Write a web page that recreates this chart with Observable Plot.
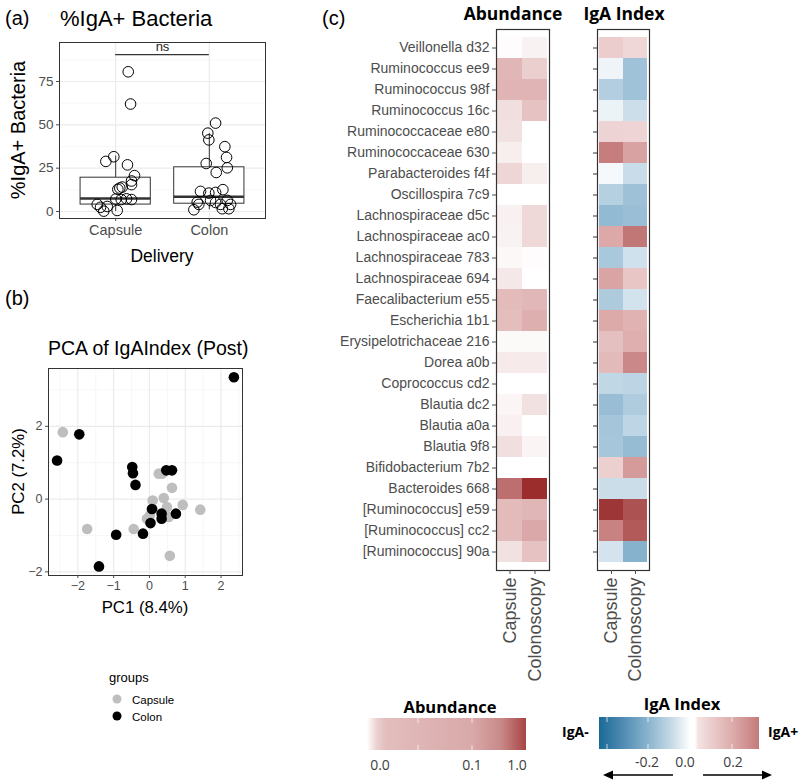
<!DOCTYPE html>
<html><head><meta charset="utf-8">
<script src="https://cdn.jsdelivr.net/npm/d3@7"></script>
<script src="https://cdn.jsdelivr.net/npm/@observablehq/plot@0.6"></script>
<style>
body{margin:0;background:#fff;}
#root{position:relative;width:800px;height:781px;overflow:hidden;background:#fff;}
.panel{position:absolute;}
.bar{position:absolute;}
</style></head><body><div id="root"></div>
<script>
// ---------- Panel (a) data ----------
const aGroups = ["Capsule", "Colon"];
const aPos = [1, 2];
const aQ1 = [4, 4.5];
const aMed = [7.5, 8.5];
const aQ3 = [19.5, 25.5];
const aLo = [0, 1];
const aHi = [32, 45];
const capX = [1.134,1.159,0.980,0.895,1.126,1.201,1.169,1.169,1.070,1.023,1.044,1.001,1.059,1.169,0.803,0.838,0.910,0.873,1.016,1.116];
const capY = [80.6,62,31.6,28.9,26.9,20.7,17.6,15.5,14.1,12.8,13.5,7.2,6.9,6.9,4.1,2.4,2.9,0.2,0.6,7.3];
const colX = [2.067,1.984,1.995,2.166,2.184,2.192,1.967,2.074,2.145,1.906,1.995,2.067,1.871,1.888,2.013,2.067,2.120,2.192,2.227,1.835,2.138,2.209];
const colY = [51,45.2,41.3,37.4,31.2,25.2,27.7,22.5,12.6,11.6,10.6,11,5.4,4.1,6.4,5.2,4.1,6.4,4.1,1,1.6,1.6];
const aYTicks = [0, 25, 50, 75];
const aYMinor = [12.5, 37.5, 62.5, 87.5];
const nsY = 90.5;

// ---------- Panel (b) data ----------
const pcaColonX = [2.36,-1.96,-2.58,-0.48,-0.46,-0.39,0.47,0.63,0.07,0.03,0.34,0.34,0.74,-0.93,-0.18,-1.41];
const pcaColonY = [3.35,1.78,1.06,0.88,0.71,0.39,0.79,0.79,-0.27,-0.66,-0.40,-0.54,-0.40,-0.98,-0.95,-1.85];
const pcaCapX = [-2.42,-1.74,-0.44,0.26,0.35,0.63,0.40,0.09,0.09,-0.07,0.01,0.49,0.93,1.42,0.57,0.54];
const pcaCapY = [1.84,-0.82,-0.82,0.70,0.70,0.31,0.03,-0.04,-0.27,-0.54,-0.45,-0.22,-0.16,-0.29,-1.56,-0.49];
const bXTicks = [-2, -1, 0, 1, 2];
const bXMinor = [-2.5, -1.5, -0.5, 0.5, 1.5, 2.5];
const bYTicks = [-2, 0, 2];
const bYMinor = [-1, 1, 3];

// ---------- Panel (c) data ----------
const taxa = ["Veillonella d32","Ruminococcus ee9","Ruminococcus 98f","Ruminococcus 16c","Ruminococcaceae e80","Ruminococcaceae 630","Parabacteroides f4f","Oscillospira 7c9","Lachnospiraceae d5c","Lachnospiraceae ac0","Lachnospiraceae 783","Lachnospiraceae 694","Faecalibacterium e55","Escherichia 1b1","Erysipelotrichaceae 216","Dorea a0b","Coprococcus cd2","Blautia dc2","Blautia a0a","Blautia 9f8","Bifidobacterium 7b2","Bacteroides 668","[Ruminococcus] e59","[Ruminococcus] cc2","[Ruminococcus] 90a"];
const methods = ["Capsule", "Colonoscopy"];
const abundCapsule = [0.0002,0.045,0.05,0.005,0.004,0.0015,0.008,0,0.0012,0.001,0.0005,0.0025,0.035,0.032,0.0004,0.0022,0,0.0007,0.0012,0.005,0,0.28,0.035,0.035,0.004];
const abundColon   = [0.001,0.012,0.05,0.025,0,0,0.0015,0,0.007,0.007,0.0002,0,0.042,0.065,0.0004,0.0022,0,0.004,0,0.0008,0,0.95,0.045,0.09,0.025];
const igaCapsule = [0.112,-0.026,-0.12,-0.03,0.099,0.312,-0.014,-0.116,-0.17,0.195,-0.135,0.205,-0.128,0.19,0.142,0.155,-0.1,-0.162,-0.144,-0.14,0.106,-0.084,0.44,0.299,-0.068];
const igaColon   = [0.09,-0.151,-0.151,-0.082,0.097,0.21,-0.086,-0.152,-0.16,0.329,-0.075,0.128,-0.07,0.173,0.18,0.283,-0.106,-0.126,-0.104,-0.166,0.233,-0.084,0.392,0.378,-0.19];
const abundTickLabels = ["0.0", "0.1", "1.0"];
const igaTickLabels = ["-0.2", "0.0", "0.2"];

// ---------- build tables ----------
const boxes = aGroups.map((g, i) => ({g, pos: aPos[i], q1: aQ1[i], med: aMed[i], q3: aQ3[i], lo: aLo[i], hi: aHi[i]}));
const aPoints = capX.map((x, i) => ({x, y: capY[i]})).concat(colX.map((x, i) => ({x, y: colY[i]})));
const pcaCap = pcaCapX.map((x, i) => ({x, y: pcaCapY[i]}));
const pcaCol = pcaColonX.map((x, i) => ({x, y: pcaColonY[i]}));
const cells = [];
taxa.forEach((t, i) => {
  cells.push({taxon: t, method: methods[0], abund: abundCapsule[i], iga: igaCapsule[i]});
  cells.push({taxon: t, method: methods[1], abund: abundColon[i], iga: igaColon[i]});
});

const FONT = "Liberation Sans, Arial, Helvetica, sans-serif";
const baseStyle = {background: "transparent", fontFamily: FONT, color: "#4d4d4d", overflow: "visible"};
const root = document.getElementById("root");
function place(el, left, top) {
  el.classList.add("panel");
  el.style.left = left + "px";
  el.style.top = top + "px";
  root.appendChild(el);
}

// ---------- Panel (a) ----------
const pa = Plot.plot({
  width: 280, height: 270, marginLeft: 59, marginRight: 15, marginTop: 42, marginBottom: 52,
  style: baseStyle,
  x: {domain: [0.4, 2.6], label: null},
  y: {domain: [-4.04, 97.5], label: null},
  marks: [
    Plot.gridY(aYMinor, {stroke: "#f3f3f3", strokeOpacity: 1, strokeWidth: 0.7}),
    Plot.gridY(aYTicks, {stroke: "#ebebeb", strokeOpacity: 1, strokeWidth: 1.2}),
    Plot.gridX(aPos, {stroke: "#ebebeb", strokeOpacity: 1, strokeWidth: 1.2}),
    Plot.ruleX(boxes, {x: "pos", y1: "lo", y2: "q1", stroke: "#333", strokeWidth: 1}),
    Plot.ruleX(boxes, {x: "pos", y1: "q3", y2: "hi", stroke: "#333", strokeWidth: 1}),
    Plot.rect(boxes, {x1: d => d.pos - 0.375, x2: d => d.pos + 0.375, y1: "q1", y2: "q3", fill: "white", stroke: "#333", strokeWidth: 1}),
    Plot.ruleY(boxes, {x1: d => d.pos - 0.375, x2: d => d.pos + 0.375, y: "med", stroke: "#333", strokeWidth: 2.4}),
    Plot.dot(aPoints, {x: "x", y: "y", r: 5.3, stroke: "black", strokeWidth: 1, fill: "none"}),
    Plot.ruleY([nsY], {x1: aPos[0], x2: aPos[1], stroke: "#333", strokeWidth: 1.3}),
    Plot.text(["ns"], {x: (aPos[0] + aPos[1]) / 2, y: nsY, dy: -8, fontSize: 13, fill: "#222"}),
    Plot.frame({stroke: "#333", strokeWidth: 1}),
    Plot.axisY(aYTicks, {tickSize: 3, tickPadding: 3, fontSize: 13.5, color: "#4d4d4d", label: null}),
    Plot.axisX(aPos, {tickSize: 3, tickPadding: 3, fontSize: 14.5, color: "#4d4d4d", tickFormat: d => aGroups[d - 1], label: null})
  ]
});
place(pa, 0, 0);

// ---------- Panel (b) ----------
const pb = Plot.plot({
  width: 260, height: 280, marginLeft: 48, marginRight: 18, marginTop: 38, marginBottom: 35,
  style: baseStyle,
  x: {domain: [-2.82, 2.6], label: null},
  y: {domain: [-2.1, 3.59], label: null},
  marks: [
    Plot.gridX(bXMinor, {stroke: "#f3f3f3", strokeOpacity: 1, strokeWidth: 0.7}),
    Plot.gridY(bYMinor, {stroke: "#f3f3f3", strokeOpacity: 1, strokeWidth: 0.7}),
    Plot.gridX(bXTicks, {stroke: "#ebebeb", strokeOpacity: 1, strokeWidth: 1.2}),
    Plot.gridY(bYTicks, {stroke: "#ebebeb", strokeOpacity: 1, strokeWidth: 1.2}),
    Plot.dot(pcaCap, {x: "x", y: "y", r: 5.3, fill: "#bebebe"}),
    Plot.dot(pcaCol, {x: "x", y: "y", r: 5.3, fill: "black"}),
    Plot.frame({stroke: "#333", strokeWidth: 1}),
    Plot.axisY(bYTicks, {tickSize: 3, tickPadding: 3, fontSize: 12.5, color: "#4d4d4d", label: null}),
    Plot.axisX(bXTicks, {tickSize: 3, tickPadding: 3, fontSize: 12.5, color: "#4d4d4d", label: null})
  ]
});
place(pb, 0, 330);

// ---------- Panel (c) heatmaps ----------
const abundColor = {type: "symlog", constant: 0.001, domain: [0, 0.002, 0.02, 0.1, 1],
  range: ["#ffffff", "#f6ebeb", "#e8c6c6", "#d9a6a6", "#9b2a2a"]};
const igaColor = {type: "linear", domain: [-0.415, -0.2, 0, 0.2, 0.329, 0.45],
  range: ["#1a6a97", "#80aecb", "#ffffff", "#dba6a6", "#c27777", "#9a3030"]};

const heatA = Plot.plot({
  width: 275, height: 700, marginLeft: 216, marginRight: 6, marginTop: 29, marginBottom: 130,
  style: baseStyle,
  x: {domain: methods, padding: 0, insetLeft: 1, insetRight: 2, label: null},
  y: {domain: taxa, padding: 0, insetTop: 2, insetBottom: 1.5, label: null},
  color: abundColor,
  marks: [
    Plot.cell(cells, {x: "method", y: "taxon", fill: "abund", inset: 0}),
    Plot.frame({stroke: "#333", strokeWidth: 1.2}),
    Plot.axisY({tickSize: 4, tickPadding: 3, fontSize: 14, color: "#4d4d4d", label: null}),
    Plot.axisX({tickSize: 4, tickPadding: 3, tickRotate: -90, fontSize: 18, color: "#4d4d4d", label: null})
  ]
});
place(heatA, 280, 0);

const heatI = Plot.plot({
  width: 100, height: 700, marginLeft: 37, marginRight: 11, marginTop: 29, marginBottom: 130,
  style: baseStyle,
  x: {domain: methods, padding: 0, insetLeft: 1, insetRight: 2, label: null},
  y: {domain: taxa, padding: 0, insetTop: 2, insetBottom: 1.5, label: null},
  color: igaColor,
  marks: [
    Plot.cell(cells, {x: "method", y: "taxon", fill: "iga", inset: 0}),
    Plot.frame({stroke: "#333", strokeWidth: 1.2}),
    Plot.axisY({tickSize: 4, tickFormat: () => "", color: "#333", label: null}),
    Plot.axisX({tickSize: 4, tickPadding: 3, tickRotate: -90, fontSize: 18, color: "#4d4d4d", label: null})
  ]
});
place(heatI, 560, 0);

// ---------- Legends (HTML gradient bars) ----------
function bar(left, top, w, h, grad) {
  const d = document.createElement("div");
  d.className = "bar";
  Object.assign(d.style, {left: left + "px", top: top + "px", width: w + "px", height: h + "px", background: grad});
  root.appendChild(d);
}
bar(367, 718, 159, 32, "linear-gradient(to right, #ffffff 0%, #ecd2d2 6%, #e3bdbd 12%, #d9a9a9 66%, #c98a8a 84%, #a84444 100%)");
bar(599, 717, 160, 32, "linear-gradient(to right, #1a6a97 0%, #4d89b1 14%, #86b2cd 30%, #c9dbe7 46%, #f5f8fa 55%, #ffffff 57%, #ffffff 60%, #f4e2e2 62%, #dcaaaa 84%, #c47a7a 100%)");

// ---------- Text overlay ----------
const svg = d3.select(root).append("svg")
  .attr("width", 800).attr("height", 781)
  .style("position", "absolute").style("left", "0px").style("top", "0px").style("pointer-events", "none");
function txt(x, y, s, o = {}) {
  const t = svg.append("text").attr("x", x).attr("y", y).text(s)
    .attr("font-size", o.fs || 14).attr("font-family", o.ff || FONT)
    .attr("fill", o.fill || "#000").attr("text-anchor", o.anchor || "start");
  if (o.bold) t.attr("font-weight", "bold");
  if (o.rot) t.attr("transform", `rotate(${o.rot},${x},${y})`);
  return t;
}
const CAL = "Open Sans, Lato, sans-serif";
// panel (a)
txt(5, 25, "(a)", {fs: 20});
txt(60, 25.5, "%IgA+ Bacteria", {fs: 22});
txt(25, 130, "%IgA+ Bacteria", {fs: 20, rot: -90, anchor: "middle"});
txt(162, 262, "Delivery", {fs: 17.5, anchor: "middle"});
// panel (b)
txt(5, 305, "(b)", {fs: 20});
txt(48, 355, "PCA of IgAIndex (Post)", {fs: 19.5});
txt(24, 471.5, "PC2 (7.2%)", {fs: 16.8, rot: -90, anchor: "middle"});
txt(145, 613, "PC1 (8.4%)", {fs: 16.8, anchor: "middle"});
txt(109, 682, "groups", {fs: 13});
svg.append("circle").attr("cx", 117).attr("cy", 699).attr("r", 4.5).attr("fill", "#bebebe");
svg.append("circle").attr("cx", 117).attr("cy", 716).attr("r", 4.5).attr("fill", "black");
txt(132, 703.5, "Capsule", {fs: 11.5});
txt(132, 720.5, "Colon", {fs: 11.5});
// panel (c)
txt(322, 25, "(c)", {fs: 20});
txt(513, 20, "Abundance", {fs: 17.5, bold: true, ff: CAL, anchor: "middle"});
txt(624, 20, "IgA Index", {fs: 17.5, bold: true, ff: CAL, anchor: "middle"});
// legends
txt(450, 713, "Abundance", {fs: 16.5, bold: true, ff: CAL, anchor: "middle"});
[380, 472, 517].forEach((x, i) => txt(x, 770, abundTickLabels[i], {fs: 14, ff: CAL, fill: "#404040", anchor: "middle"}));
txt(682, 710, "IgA Index", {fs: 16.5, bold: true, ff: CAL, anchor: "middle"});
[647, 685, 733].forEach((x, i) => txt(x, 767, igaTickLabels[i], {fs: 14, ff: CAL, fill: "#404040", anchor: "middle"}));
txt(562, 737, "IgA-", {fs: 14, bold: true, ff: CAL});
txt(768, 737, "IgA+", {fs: 14, bold: true, ff: CAL});
// white ticks in bars
[[418, 718, 750], [472, 718, 750], [607, 717, 749], [648, 717, 749], [732, 717, 749]].forEach(([x, y1, y2]) => {
  svg.append("line").attr("x1", x).attr("x2", x).attr("y1", y1).attr("y2", y1 + 5).attr("stroke", "white").attr("stroke-width", 1).attr("opacity", 0.7);
  svg.append("line").attr("x1", x).attr("x2", x).attr("y1", y2 - 5).attr("y2", y2).attr("stroke", "white").attr("stroke-width", 1).attr("opacity", 0.7);
});
// arrows
svg.append("line").attr("x1", 673).attr("x2", 610).attr("y1", 775).attr("y2", 775).attr("stroke", "black").attr("stroke-width", 1.5);
svg.append("path").attr("d", "M603,775 L613,770.5 L613,779.5 Z").attr("fill", "black");
svg.append("line").attr("x1", 703).attr("x2", 765).attr("y1", 775).attr("y2", 775).attr("stroke", "black").attr("stroke-width", 1.5);
svg.append("path").attr("d", "M772,775 L762,770.5 L762,779.5 Z").attr("fill", "black");
</script></body></html>
